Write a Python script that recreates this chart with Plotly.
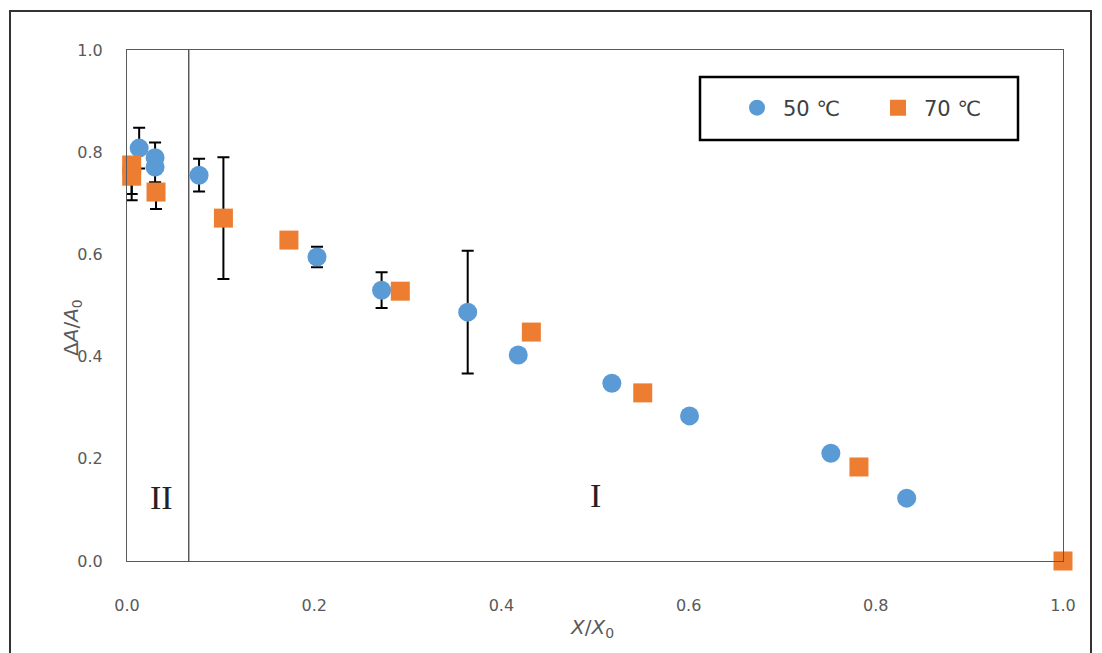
import plotly.graph_objects as go

# ---- data ----
x_50 = [0.013, 0.030, 0.030, 0.077, 0.203, 0.272, 0.364, 0.418, 0.518, 0.601, 0.752, 0.833]
y_50 = [0.808, 0.789, 0.771, 0.755, 0.595, 0.530, 0.487, 0.403, 0.348, 0.284, 0.211, 0.123]
e_50 = [0.040, 0.030, 0.030, 0.032, 0.020, 0.035, 0.120, 0.0, 0.0, 0.0, 0.0, 0.0]

x_70 = [0.005, 0.005, 0.031, 0.103, 0.173, 0.292, 0.432, 0.551, 0.782, 1.000]
y_70 = [0.775, 0.753, 0.722, 0.671, 0.628, 0.528, 0.448, 0.329, 0.184, 0.000]
e_70_up = [0.015, 0.015, 0.015, 0.119, 0.0, 0.0, 0.0, 0.0, 0.0, 0.0]
e_70_down = [0.057, 0.047, 0.033, 0.119, 0.0, 0.0, 0.0, 0.0, 0.0, 0.0]

tick_vals = [0.0, 0.2, 0.4, 0.6, 0.8, 1.0]
tick_text = ["0.0", "0.2", "0.4", "0.6", "0.8", "1.0"]
series_names = ["50 \u2103", "70 \u2103"]
region_boundary = 0.066
region_labels = ["II", "I"]
region_label_x = [0.037, 0.500]
region_label_y = [0.125, 0.129]

BLUE = "#5B9BD5"
ORANGE = "#ED7D31"
TICK_FONT = dict(family="DejaVu Sans", size=16, color="#595959")

fig = go.Figure()
fig.add_trace(go.Scatter(
    x=x_50, y=y_50, mode="markers", name=series_names[0],
    marker=dict(symbol="circle", size=19, color=BLUE),
    error_y=dict(type="data", array=e_50, color="black", thickness=2, width=6),
    cliponaxis=False,
))
fig.add_trace(go.Scatter(
    x=x_70, y=y_70, mode="markers", name=series_names[1],
    marker=dict(symbol="square", size=19, color=ORANGE),
    error_y=dict(type="data", symmetric=False, array=e_70_up, arrayminus=e_70_down,
                 color="black", thickness=2, width=6),
    cliponaxis=False,
))

# region boundary line
fig.add_shape(type="line", xref="x", yref="paper", x0=region_boundary, x1=region_boundary,
              y0=0, y1=1, line=dict(color="#333333", width=1.2))

# region labels
for t, lx, ly in zip(region_labels, region_label_x, region_label_y):
    fig.add_annotation(x=lx, y=ly, xref="x", yref="y", text=t, showarrow=False,
                       xanchor="center", yanchor="middle",
                       font=dict(family="Liberation Serif", size=34, color="#222222"))

# axis titles as annotations
fig.add_annotation(x=(72 - 127) / 936, y=0.456, xref="paper", yref="paper",
                   xanchor="center", yanchor="middle",
                   text="\u0394<i>A</i>/<i>A</i><sub>0</sub>", textangle=-90, showarrow=False,
                   font=dict(family="DejaVu Sans", size=20, color="#595959"))
fig.add_annotation(x=0.497, y=-0.131, xref="paper", yref="paper",
                   xanchor="center", yanchor="middle",
                   text="<i>X</i>/<i>X</i><sub>0</sub>", showarrow=False,
                   font=dict(family="DejaVu Sans", size=20, color="#595959"))

# legend box
fig.add_shape(type="rect", xref="paper", yref="paper",
              x0=(700 - 127) / 936, x1=(1018 - 127) / 936,
              y0=(561 - 140) / 511, y1=(561 - 77) / 511,
              line=dict(color="black", width=2.5), fillcolor="rgba(0,0,0,0)")

# outer frame
fig.add_shape(type="rect", xref="paper", yref="paper",
              x0=(10 - 127) / 936, x1=(1091 - 127) / 936,
              y0=(561 - 680) / 511, y1=(561 - 11) / 511,
              line=dict(color="#333333", width=2), fillcolor="rgba(0,0,0,0)")

fig.update_layout(
    width=1102, height=653,
    margin=dict(l=127, r=39, t=50, b=92, autoexpand=False),
    paper_bgcolor="white", plot_bgcolor="white",
    showlegend=True,
    legend=dict(orientation="h", x=(731 - 127) / 936, y=(561 - 108) / 511,
                xanchor="left", yanchor="middle", entrywidth=84, itemwidth=42,
                bgcolor="rgba(0,0,0,0)", borderwidth=0,
                font=dict(family="DejaVu Sans", size=21, color="#404040")),
    xaxis=dict(range=[0, 1], tickvals=tick_vals, ticktext=tick_text,
               showgrid=False, zeroline=False, showline=True, mirror=True,
               linecolor="#595959", linewidth=1, automargin=False,
               ticks="outside", ticklen=30, tickcolor="rgba(0,0,0,0)",
               tickfont=TICK_FONT),
    yaxis=dict(range=[0, 1], tickvals=tick_vals, ticktext=tick_text,
               showgrid=False, zeroline=False, showline=True, mirror=True,
               linecolor="#595959", linewidth=1, automargin=False,
               ticks="outside", ticklen=20, tickcolor="rgba(0,0,0,0)",
               tickfont=TICK_FONT),
)

fig.write_html("out.html")
